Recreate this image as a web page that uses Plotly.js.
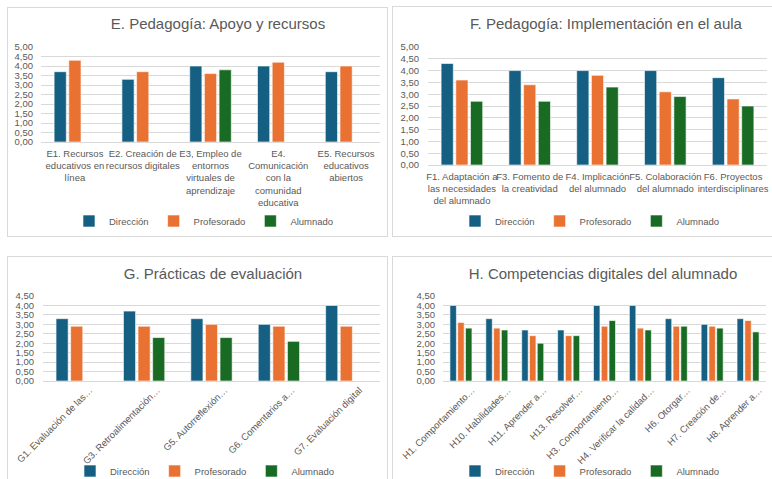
<!DOCTYPE html>
<html>
<head>
<meta charset="utf-8">
<script src="https://cdn.plot.ly/plotly-3.0.1.min.js"></script>
<style>
  html, body { margin:0; padding:0; background:#ffffff; width:772px; height:479px; overflow:hidden; }
  .panel { position:absolute; border:1px solid #d9d9d9; box-sizing:border-box; overflow:hidden; background:#fff; }
  .plot { position:absolute; left:-1px; top:-1px; }
</style>
</head>
<body>
<div class="panel" id="pE" style="left:7px; top:7px; width:381px; height:230px;"><div class="plot" id="E"></div></div>
<div class="panel" id="pF" style="left:392px; top:6px; width:382px; height:231px;"><div class="plot" id="F"></div></div>
<div class="panel" id="pG" style="left:7px; top:256px; width:381px; height:232px;"><div class="plot" id="G"></div></div>
<div class="panel" id="pH" style="left:392px; top:256px; width:382px; height:232px;"><div class="plot" id="H"></div></div>
<script>
// ---------- data ----------
const seriesNames = ['Dirección', 'Profesorado', 'Alumnado'];
const seriesColors = ['#156082', '#E97132', '#196B24'];

const titleE = 'E. Pedagogía: Apoyo y recursos';
const catE = ['E1. Recursos<br>educativos en<br>línea', 'E2. Creación de<br>recursos digitales', 'E3, Empleo de<br>entornos<br>virtuales de<br>aprendizaje', 'E4.<br>Comunicación<br>con la<br>comunidad<br>educativa', 'E5. Recursos<br>educativos<br>abiertos'];
const dirE  = [3.7, 3.3, 4.0, 4.0, 3.7];
const profE = [4.3, 3.7, 3.6, 4.2, 4.0];
const aluE  = [null, null, 3.8, null, null];

const titleF = 'F. Pedagogía: Implementación en el aula';
const catF = ['F1. Adaptación a<br>las necesidades<br>del alumnado', 'F3. Fomento de<br>la creatividad', 'F4. Implicación<br>del alumnado', 'F5. Colaboración<br>del alumnado', 'F6. Proyectos<br>interdisciplinares'];
const dirF  = [4.3, 4.0, 4.0, 4.0, 3.7];
const profF = [3.6, 3.4, 3.8, 3.1, 2.8];
const aluF  = [2.7, 2.7, 3.3, 2.9, 2.5];

const titleG = 'G. Prácticas de evaluación';
const catG = ['G1. Evaluación de las…', 'G3. Retroalimentación…', 'G5. Autorreflexión…', 'G6. Comentarios a…', 'G7. Evaluación digital'];
const dirG  = [3.3, 3.7, 3.3, 3.0, 4.0];
const profG = [2.9, 2.9, 3.0, 2.9, 2.9];
const aluG  = [null, 2.3, 2.3, 2.1, null];

const titleH = 'H. Competencias digitales del alumnado';
const catH = ['H1. Comportamiento…', 'H10. Habilidades…', 'H11. Aprender a…', 'H13. Resolver…', 'H3. Comportamiento…', 'H4. Verificar la calidad…', 'H6. Otorgar…', 'H7. Creación de…', 'H8. Aprender a…'];
const dirH  = [4.0, 3.3, 2.7, 2.7, 4.0, 4.0, 3.3, 3.0, 3.3];
const profH = [3.1, 2.8, 2.4, 2.4, 2.9, 2.8, 2.9, 2.9, 3.2];
const aluH  = [2.8, 2.7, 2.0, 2.4, 3.2, 2.7, 2.9, 2.8, 2.6];

// ---------- drawing ----------
const FONT = '"Liberation Sans", Arial, Helvetica, sans-serif';
const TXT = '#595959';
const GRID = '#d9d9d9';

function makeTraces(cats, series) {
  return series.map((vals, i) => ({
    type: 'bar',
    name: seriesNames[i],
    x: cats,
    y: vals,
    marker: { color: seriesColors[i], line: { color: '#ffffff', width: 0.6 } },
    hoverinfo: 'none'
  }));
}

function draw(id, title, cats, series, opt) {
  const W = opt.W, H = opt.H;
  const layout = {
    width: W, height: H,
    paper_bgcolor: '#ffffff', plot_bgcolor: '#ffffff',
    font: { family: FONT, color: TXT, size: 9.5 },
    separators: ',.',
    showlegend: true,
    barmode: 'group',
    bargap: 0.35,
    bargroupgap: 0.17,
    margin: { l: opt.l, r: opt.r, t: opt.t, b: opt.b, pad: 0 },
    title: {
      text: title,
      font: { family: FONT, size: 15, color: TXT },
      xref: 'container', x: opt.tx / W, xanchor: 'center',
      yref: 'container', y: 1 - opt.ty / H, yanchor: 'middle'
    },
    legend: {
      orientation: 'h',
      xref: 'container', x: opt.lx / W, xanchor: 'center',
      yref: 'container', y: 1 - opt.ly / H, yanchor: 'middle',
      font: { family: FONT, size: 9.5, color: TXT },
      traceorder: 'normal',
      itemwidth: 30,
      bgcolor: 'rgba(0,0,0,0)'
    },
    xaxis: {
      type: 'category',
      automargin: false,
      showgrid: false,
      showline: false,
      zeroline: false,
      ticks: '',
      tickangle: opt.angle,
      tickfont: { family: FONT, size: 9.5, color: TXT },
      ticklabelstandoff: opt.xstand,
      ticklabelshift: opt.xshift
    },
    yaxis: {
      range: [0, opt.ymax],
      dtick: 0.5,
      tick0: 0,
      tickformat: '.2f',
      automargin: false,
      showgrid: true,
      gridcolor: GRID,
      gridwidth: 1,
      zeroline: true,
      zerolinecolor: GRID,
      zerolinewidth: 1,
      showline: false,
      ticks: '',
      tickfont: { family: FONT, size: 9.5, color: TXT },
      ticklabelstandoff: opt.ystand
    }
  };
  Plotly.newPlot(id, makeTraces(cats, series), layout, { staticPlot: true, displayModeBar: false });
}

draw('E', titleE, catE, [dirE, profE, aluE],
  { W: 381, H: 230, l: 34, r: 8, t: 39.7, b: 95, ymax: 5, tx: 211, ty: 17, lx: 197, ly: 214, angle: 0, xstand: 4, xshift: 0, ystand: 7 });
draw('F', titleF, catF, [dirF, profF, aluF],
  { W: 382, H: 231, l: 36, r: 7, t: 40.7, b: 71.7, ymax: 5, tx: 214, ty: 18, lx: 198, ly: 215, angle: 0, xstand: 4, xshift: 0, ystand: 8 });
draw('G', titleG, catG, [dirG, profG, aluG],
  { W: 381, H: 232, l: 36, r: 8, t: 40, b: 107, ymax: 4.5, tx: 206, ty: 18, lx: 198, ly: 215, angle: -45, xstand: 1, xshift: 13, ystand: 8 });
draw('H', titleH, catH, [dirH, profH, aluH],
  { W: 382, H: 232, l: 51, r: 8, t: 40, b: 107, ymax: 4.5, tx: 211, ty: 18, lx: 198, ly: 215, angle: -45, xstand: 1, xshift: 11, ystand: 7 });
</script>
</body>
</html>
